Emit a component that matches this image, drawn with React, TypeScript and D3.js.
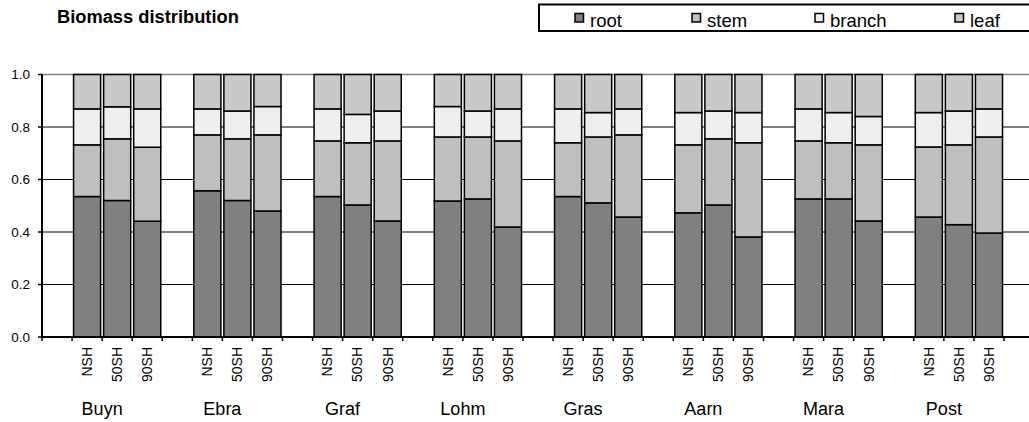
import React from "react";
import * as d3 from "d3";

const sites = ["Buyn", "Ebra", "Graf", "Lohm", "Gras", "Aarn", "Mara", "Post"];
const treatments = ["NSH", "50SH", "90SH"];
const seriesNames = ["root", "stem", "branch", "leaf"];
const seriesColors = ["#808080", "#BFBFBF", "#EFEFEF", "#C9C9C9"];
const yTicks = [0, 0.2, 0.4, 0.6, 0.8, 1.0];

// fractions per bar, order: site-major, treatment-minor
const root = [
  0.535, 0.52, 0.441, 0.557, 0.52, 0.48, 0.535, 0.503, 0.442, 0.518, 0.526, 0.419,
  0.535, 0.511, 0.457, 0.473, 0.503, 0.381, 0.526, 0.526, 0.442, 0.457, 0.428, 0.396,
];
const stem = [
  0.197, 0.235, 0.282, 0.213, 0.235, 0.29, 0.212, 0.237, 0.305, 0.244, 0.236, 0.328,
  0.205, 0.251, 0.313, 0.259, 0.252, 0.359, 0.221, 0.214, 0.29, 0.267, 0.304, 0.366,
];
const branch = [
  0.137, 0.122, 0.146, 0.099, 0.106, 0.108, 0.122, 0.108, 0.114, 0.116, 0.099, 0.122,
  0.129, 0.093, 0.099, 0.123, 0.106, 0.115, 0.122, 0.115, 0.108, 0.131, 0.129, 0.107,
];
const leaf = [
  0.131, 0.123, 0.131, 0.131, 0.139, 0.122, 0.131, 0.152, 0.139, 0.122, 0.139, 0.131,
  0.131, 0.145, 0.131, 0.145, 0.139, 0.145, 0.131, 0.145, 0.16, 0.145, 0.139, 0.131,
];

const W = 1029;
const H = 422;
const X0 = 42;
const X1 = 1004;
const Y0 = 337;
const Y1 = 74.5;
const RIGHT = 1029;
const FONT = "'Liberation Sans', Arial, Helvetica, sans-serif";

export default function App() {
  const slots: string[] = [];
  sites.forEach((s) => {
    slots.push(s + "|gap");
    treatments.forEach((t) => slots.push(s + "|" + t));
  });
  const x = d3.scaleBand<string>().domain(slots).range([X0, X1]).padding(0);
  const y = d3.scaleLinear().domain([0, 1]).range([Y0, Y1]);

  const rows = sites.flatMap((s, si) =>
    treatments.map((t, ti) => {
      const i = si * 3 + ti;
      return { key: s + "|" + t, site: s, treat: t, root: root[i], stem: stem[i], branch: branch[i], leaf: leaf[i] };
    })
  );
  const stack = d3.stack<any>().keys(seriesNames)(rows);
  const step = x.step();
  const ticksX = slots.map((s) => x(s)!).concat([X1]);

  const legendX = [575, 692, 815, 955];

  return (
    <svg width={W} height={H} style={{ position: "absolute", left: 0, top: 0, background: "#fff" }} fontFamily={FONT}>
      {/* title */}
      <text x={57} y={23} fontSize={18.3} fontWeight="bold" fill="#000">
        Biomass distribution
      </text>
      {/* legend */}
      <rect x={539} y={4.5} width={500} height={26.5} fill="#fff" stroke="#000" strokeWidth={2} />
      {seriesNames.map((n, i) => (
        <g key={n}>
          <rect x={legendX[i]} y={13.5} width={8.5} height={8.5} fill={seriesColors[i]} stroke="#000" strokeWidth={1.5} />
          <text x={legendX[i] + 15} y={27} fontSize={18.5} fill="#000">
            {n}
          </text>
        </g>
      ))}
      {/* grid */}
      {yTicks.slice(1, 5).map((v) => (
        <line key={v} x1={X0} x2={RIGHT} y1={y(v)} y2={y(v)} stroke="#000" strokeWidth={1} />
      ))}
      <line x1={X0} x2={RIGHT} y1={y(1)} y2={y(1)} stroke="#808080" strokeWidth={1.5} />
      {/* bars */}
      {stack.map((layer, li) =>
        layer.map((d: any) => {
          const key = d.data.key;
          const bx = x(key)! + 1.5;
          return (
            <rect
              key={key + li}
              x={bx}
              y={y(d[1])}
              width={step - 3}
              height={y(d[0]) - y(d[1])}
              fill={seriesColors[li]}
              stroke="#000"
              strokeWidth={1.5}
            />
          );
        })
      )}
      {/* y axis */}
      <line x1={X0} x2={X0} y1={Y1 - 0.5} y2={Y0 + 1} stroke="#000" strokeWidth={2} />
      {yTicks.map((v) => (
        <g key={v}>
          <line x1={X0 - 4} x2={X0} y1={y(v)} y2={y(v)} stroke="#000" strokeWidth={1.5} />
          <text x={30} y={y(v)} dy="0.35em" textAnchor="end" fontSize={13.5} fill="#000">
            {d3.format(".1f")(v)}
          </text>
        </g>
      ))}
      {/* x axis */}
      <line x1={X0} x2={RIGHT} y1={Y0} y2={Y0} stroke="#000" strokeWidth={2} />
      {ticksX.map((tx, i) => (
        <line key={i} x1={tx} x2={tx} y1={Y0} y2={Y0 + 4} stroke="#000" strokeWidth={1.5} />
      ))}
      {rows.map((r) => {
        const cx = x(r.key)! + step / 2;
        return (
          <text
            key={"l" + r.key}
            transform={`translate(${cx + 4.8},347) rotate(-90)`}
            textAnchor="end"
            fontSize={14}
            fill="#000"
          >
            {r.treat}
          </text>
        );
      })}
      {sites.map((s) => {
        const cx = x(s + "|NSH")! + step;
        return (
          <text key={"g" + s} x={cx} y={415} textAnchor="middle" fontSize={18} fill="#000">
            {s}
          </text>
        );
      })}
    </svg>
  );
}
